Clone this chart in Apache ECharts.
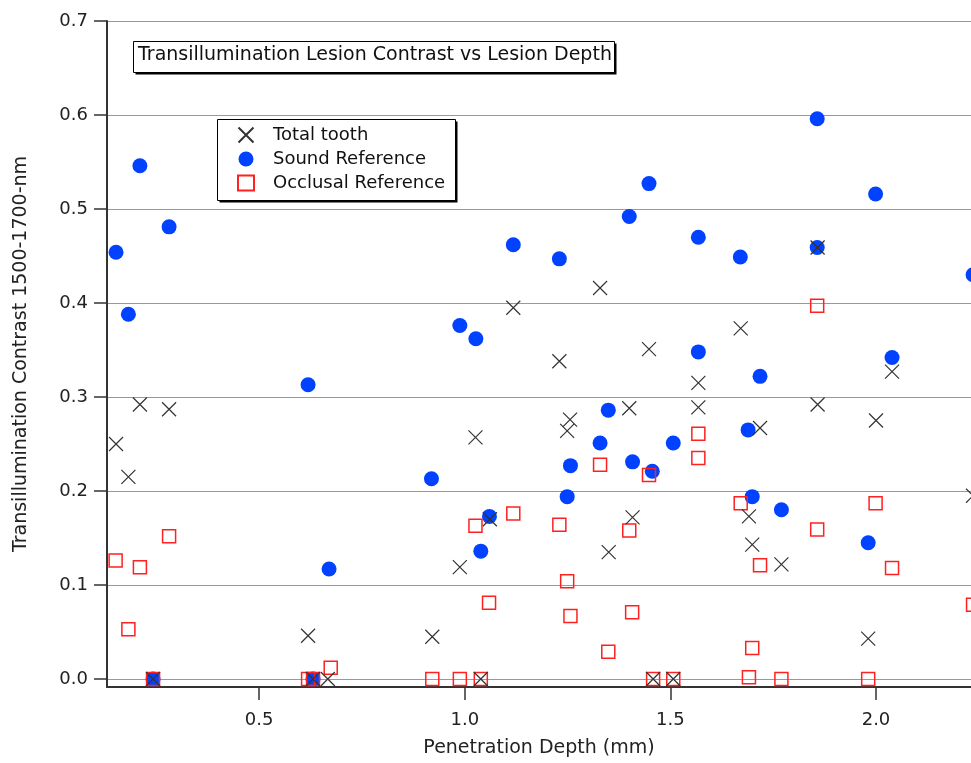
<!DOCTYPE html>
<html><head><meta charset="utf-8">
<script src="https://cdn.jsdelivr.net/npm/echarts@6/dist/echarts.min.js"></script>
<style>html,body{margin:0;padding:0;background:#fff}#c{width:971px;height:763px}</style>
</head><body><div id="c"></div>
<script>
// [depth (mm), contrast]
var totalTooth = [
 [0.152,0.250],[0.182,0.215],[0.210,0.292],[0.281,0.287],[0.242,0],[0.619,0.046],[0.631,0],[0.667,0],
 [0.921,0.045],[0.988,0.119],[1.026,0.257],[1.039,0],[1.061,0.170],[1.118,0.395],[1.230,0.338],[1.249,0.264],
 [1.256,0.276],[1.329,0.416],[1.350,0.135],[1.400,0.288],[1.408,0.172],[1.448,0.351],[1.458,0],[1.507,0],
 [1.568,0.315],[1.568,0.289],[1.671,0.373],[1.691,0.173],[1.699,0.143],[1.718,0.267],[1.770,0.122],
 [1.858,0.459],[1.858,0.292],[1.981,0.043],[2.000,0.275],[2.039,0.327],[2.236,0.195]
];
var soundRef = [
 [0.152,0.454],[0.182,0.388],[0.210,0.546],[0.281,0.481],[0.242,0],[0.619,0.313],[0.631,0],[0.670,0.117],
 [0.919,0.213],[0.988,0.376],[1.027,0.362],[1.039,0.136],[1.060,0.173],[1.118,0.462],[1.230,0.447],[1.249,0.194],
 [1.257,0.227],[1.329,0.251],[1.349,0.286],[1.400,0.492],[1.408,0.231],[1.448,0.527],[1.456,0.221],[1.507,0.251],
 [1.568,0.470],[1.568,0.348],[1.670,0.449],[1.689,0.265],[1.699,0.194],[1.718,0.322],[1.770,0.180],
 [1.857,0.596],[1.857,0.459],[1.981,0.145],[1.999,0.516],[2.039,0.342],[2.236,0.430]
];
var occlusalRef = [
 [0.151,0.126],[0.182,0.053],[0.210,0.119],[0.281,0.152],[0.242,0],[0.619,0],[0.631,0],[0.674,0.012],
 [0.921,0],[0.988,0],[1.026,0.163],[1.039,0],[1.059,0.081],[1.118,0.176],[1.230,0.164],[1.249,0.104],
 [1.257,0.067],[1.329,0.228],[1.349,0.029],[1.400,0.158],[1.407,0.071],[1.448,0.217],[1.458,0],[1.507,0],
 [1.568,0.261],[1.568,0.235],[1.671,0.187],[1.691,0.002],[1.699,0.033],[1.718,0.121],[1.770,0],
 [1.857,0.397],[1.857,0.159],[1.981,0],[1.999,0.187],[2.039,0.118],[2.236,0.079]
];
var xTicks = [0.5, 1.0, 1.5, 2.0];
var yTicks = [0.0, 0.1, 0.2, 0.3, 0.4, 0.5, 0.6, 0.7];
var seriesNames = ['Total tooth', 'Sound Reference', 'Occlusal Reference'];
var titleText = 'Transillumination Lesion Contrast vs Lesion Depth';
var xName = 'Penetration Depth (mm)';
var yName = 'Transillumination Contrast 1500-1700-nm';

var FONT = 'DejaVu Sans';
var chart = echarts.init(document.getElementById('c'), null, {renderer: 'canvas'});
var axisCol = '#333';

function shadowBox(x, y, w, h) {
  return [
    {type: 'rect', z: 0, silent: true, shape: {x: x + 2, y: y + 2, width: w, height: h},
     style: {fill: '#000'}},
    {type: 'rect', z: 1, silent: true, shape: {x: x, y: y, width: w, height: h},
     style: {fill: '#fff', stroke: '#000', lineWidth: 1}}
  ];
}

chart.setOption({
  backgroundColor: '#fff',
  animation: false,
  textStyle: {fontFamily: FONT},
  graphic: {elements: [].concat(shadowBox(133.5, 41.5, 481, 31), shadowBox(217.5, 119.5, 238, 81))},
  title: {
    text: titleText, left: 138, top: 46, padding: 0,
    textStyle: {fontFamily: FONT, fontSize: 19, fontWeight: 'normal', color: '#111'}
  },
  legend: {
    orient: 'vertical', left: 217, top: 119, padding: [7, 6, 7, 20],
    itemGap: 6, itemWidth: 16, itemHeight: 15,
    textStyle: {fontFamily: FONT, fontSize: 18, color: '#111', padding: [0, 0, 0, 14]},
    data: seriesNames
  },
  grid: {left: 107, top: 21, right: 0, bottom: 75, containLabel: false},
  xAxis: {
    type: 'value', min: 0.13, max: 2.231,
    name: xName, nameLocation: 'middle', nameGap: 52,
    nameTextStyle: {fontFamily: FONT, fontSize: 19, color: '#222'},
    axisLine: {show: true, onZero: false, lineStyle: {color: axisCol, width: 2}},
    axisTick: {show: true, length: 13, customValues: xTicks, lineStyle: {color: axisCol, width: 1.5}},
    axisLabel: {customValues: xTicks, margin: 24, fontFamily: FONT, fontSize: 18, color: '#222',
      formatter: function (v) { return v.toFixed(1); }},
    splitLine: {show: false}
  },
  yAxis: {
    type: 'value', min: -0.0085, max: 0.7,
    name: yName, nameLocation: 'middle', nameGap: 76, nameRotate: 90,
    nameTextStyle: {fontFamily: FONT, fontSize: 19, color: '#222'},
    axisLine: {show: true, onZero: false, lineStyle: {color: axisCol, width: 2}},
    axisTick: {show: true, length: 13, customValues: yTicks, lineStyle: {color: axisCol, width: 1.5}},
    axisLabel: {customValues: yTicks, margin: 19, fontFamily: FONT, fontSize: 18, color: '#222',
      formatter: function (v) { return v.toFixed(1); }},
    splitLine: {show: true, lineStyle: {color: '#8c8cff', width: 1, type: 'solid'}}
  },
  series: [
    {
      name: seriesNames[1], type: 'scatter', data: soundRef, clip: false, z: 2,
      symbol: 'circle', symbolSize: 15,
      itemStyle: {color: '#0042ff', opacity: 1}
    },
    {
      name: seriesNames[2], type: 'scatter', data: occlusalRef, clip: false, z: 3,
      symbol: 'rect', symbolSize: 13,
      itemStyle: {color: 'rgba(0,0,0,0)', borderColor: '#ff2020', borderWidth: 1.5, opacity: 1}
    },
    {
      name: seriesNames[0], type: 'scatter', data: totalTooth, clip: false, z: 4,
      symbol: 'path://M0,0L10,10M10,0L0,10', symbolSize: 14,
      itemStyle: {color: 'rgba(0,0,0,0)', borderColor: '#333', borderWidth: 1.2, opacity: 1}
    }
  ]
});
</script></body></html>
